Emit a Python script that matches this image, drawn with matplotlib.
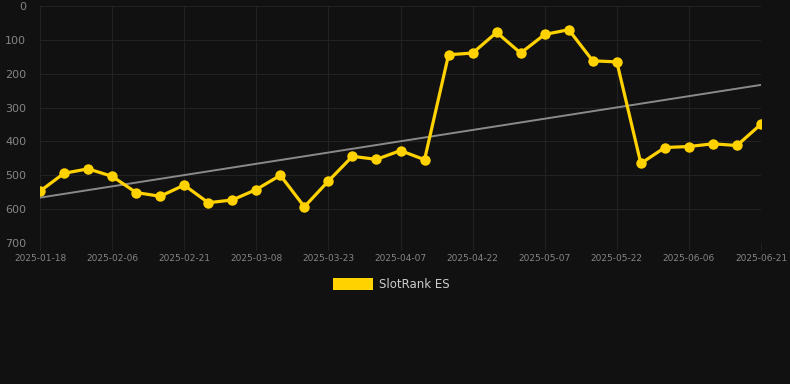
import numpy as np
import matplotlib
matplotlib.use("Agg")
import matplotlib.pyplot as plt
from matplotlib.patches import Rectangle

#--- data ---#
dates = ["2025-01-18", "2025-01-23", "2025-01-28", "2025-02-06", "2025-02-08", "2025-02-13",
         "2025-02-21", "2025-02-26", "2025-03-03", "2025-03-08", "2025-03-13", "2025-03-18",
         "2025-03-23", "2025-03-28", "2025-04-02", "2025-04-07", "2025-04-12", "2025-04-17",
         "2025-04-22", "2025-04-27", "2025-05-02", "2025-05-07", "2025-05-12", "2025-05-17",
         "2025-05-22", "2025-05-27", "2025-06-01", "2025-06-06", "2025-06-11", "2025-06-16",
         "2025-06-21"]
rank = [547, 494, 481, 503, 551, 562, 529, 581, 573, 542, 500, 593, 517, 444, 453, 427,
        454, 144, 139, 78, 139, 84, 70, 162, 165, 465, 418, 415, 407, 412, 349]
trend_ends = [566, 233]   # trend line value at first / last date
tick_labels = ["2025-01-18", "2025-02-06", "2025-02-21", "2025-03-08", "2025-03-23", "2025-04-07",
               "2025-04-22", "2025-05-07", "2025-05-22", "2025-06-06", "2025-06-21"]
y_ticks = [0, 100, 200, 300, 400, 500, 600, 700]
series_name = "SlotRank ES"

bg = "#111111"
gold = "#FFD200"
grid_c = "#222222"
label_c = "#858585"

W, H = 790, 384
fig = plt.figure(figsize=(W / 100, H / 100), dpi=100, facecolor=bg)
ax = fig.add_axes([40 / W, 1 - 243 / H, (761 - 40) / W, (243 - 6) / H], facecolor=bg)

x = np.arange(len(rank))
ax.plot(x, rank, color=gold, lw=2.3, marker="o", ms=7.5, mew=0, zorder=3)

# trend line
ax.plot([x[0], x[-1]], trend_ends, color="#8a8a8a", lw=1.4, zorder=2)

ax.set_xlim(0, len(rank) - 1)
ax.set_ylim(700, 0)
ax.set_yticks(y_ticks)
ax.set_yticklabels([str(v) for v in y_ticks])
tick_pos = list(range(0, len(rank), 3))
ax.set_xticks(tick_pos)
ax.set_xticklabels(tick_labels)

ax.grid(True, color=grid_c, lw=0.8)
for s in ax.spines.values():
    s.set_visible(False)
ax.tick_params(axis="x", colors=grid_c, labelcolor=label_c, labelsize=6.5, length=5, pad=3)
ax.tick_params(axis="y", length=0, labelcolor=label_c, labelsize=8, pad=10)

#--- legend ---#
fig.patches.append(Rectangle((333 / W, 1 - 290 / H), 40 / W, 12 / H,
                             transform=fig.transFigure, facecolor=gold, edgecolor="none"))
fig.text(379 / W, 1 - 284.5 / H, series_name, color="#cccccc", fontsize=8.5, va="center", ha="left")

fig.savefig("out.png", dpi=100, facecolor=bg)
